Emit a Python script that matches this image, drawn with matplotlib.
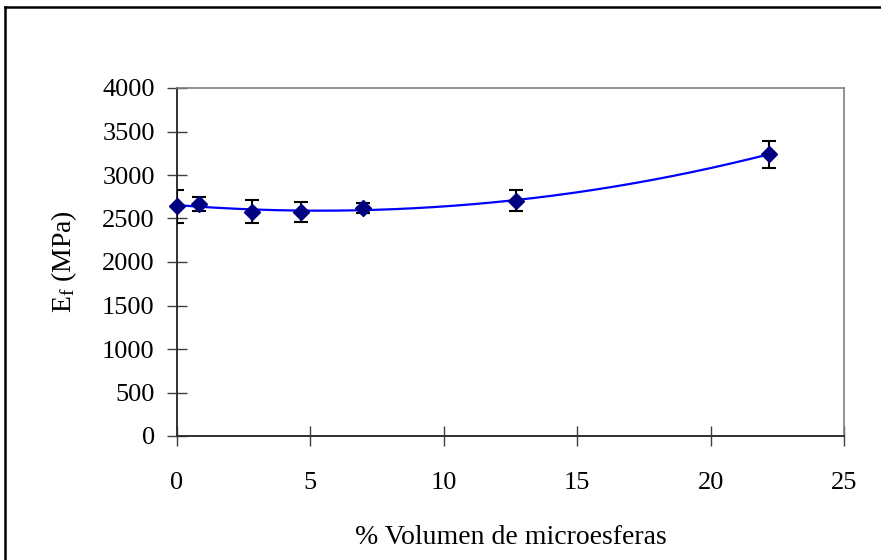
import numpy as np
import matplotlib
matplotlib.use("Agg")
import matplotlib.pyplot as plt
from matplotlib.lines import Line2D

plt.rcParams['font.family'] = ['Liberation Serif', 'DejaVu Serif']
plt.rcParams['mathtext.fontset'] = 'custom'
plt.rcParams['mathtext.rm'] = 'Liberation Serif'
plt.rcParams['mathtext.it'] = 'Liberation Serif:italic'

# Flexural modulus vs. microsphere volume fraction
vol_pct = [0.0, 0.84, 2.8, 4.65, 6.96, 12.69, 22.2]
modulus = [2640, 2668, 2580, 2580, 2618, 2706, 3240]
modulus_err = [190, 80, 130, 115, 60, 125, 155]

x_ticks = [0, 5, 10, 15, 20, 25]
y_ticks = [0, 500, 1000, 1500, 2000, 2500, 3000, 3500, 4000]

W, H = 881, 560
fig = plt.figure(figsize=(W / 100, H / 100), dpi=100)
ax = fig.add_axes([177 / W, 1 - 436 / H, (844 - 177) / W, (436 - 88) / H])

# polynomial trend line through the measurements
coef = np.polyfit(vol_pct, modulus, 3)
xs = np.linspace(min(vol_pct), max(vol_pct), 300)
ax.plot(xs, np.polyval(coef, xs), color='#0000FF', lw=1.6, zorder=2)

ax.errorbar(vol_pct, modulus, yerr=modulus_err, fmt='none', ecolor='black',
            elinewidth=1.5, capsize=5, capthick=1.5, zorder=3)
ax.plot(vol_pct, modulus, linestyle='none', marker='D', markersize=8.5,
        markerfacecolor='#000080', markeredgecolor='#000080', zorder=4,
        clip_on=False)

ax.set_xlim(0, 25)
ax.set_ylim(0, 4000)
ax.set_xticks(x_ticks)
ax.set_yticks(y_ticks)
ax.tick_params(direction='inout', length=14, width=1, color='#404040',
               labelsize=19, pad=9)
ax.tick_params(axis='x', pad=19)

for side in ('top', 'right'):
    ax.spines[side].set_color('#808080')
    ax.spines[side].set_linewidth(1.2)
for side in ('left', 'bottom'):
    ax.spines[side].set_color('#303030')
    ax.spines[side].set_linewidth(1.4)

ax.set_xlabel('% Volumen de microesferas', fontsize=20, labelpad=22)
ax.set_ylabel(r'E$_{\mathrm{f}}$ (MPa)', fontsize=20, labelpad=17)

# chart-area frame (left and top edges)
fig.add_artist(Line2D([4.5 / W, 4.5 / W], [0, 1 - 6.5 / H], color='black',
                      lw=1.8, transform=fig.transFigure))
fig.add_artist(Line2D([4.5 / W, 1], [1 - 6.5 / H, 1 - 6.5 / H], color='black',
                      lw=1.8, transform=fig.transFigure))

fig.savefig('out.png', dpi=100)
